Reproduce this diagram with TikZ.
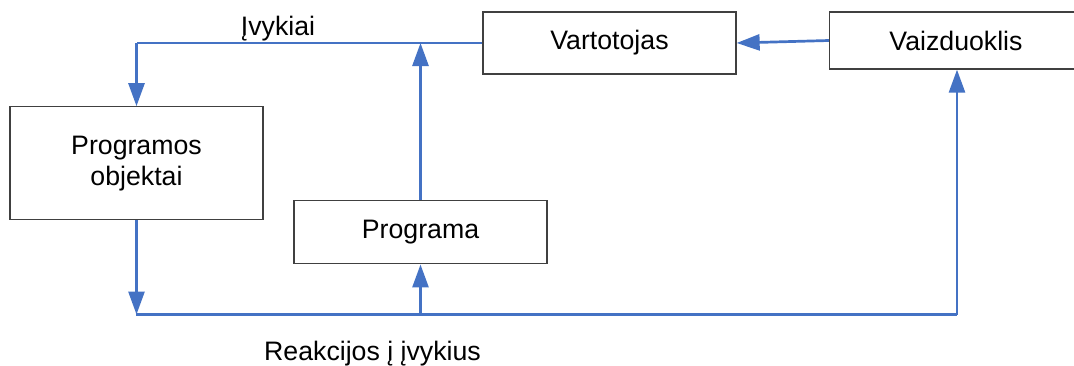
\documentclass[tikz,border=0pt]{standalone}
\usepackage{fontspec}
\setmainfont{Liberation Sans}
\usetikzlibrary{arrows.meta}
\definecolor{flowblue}{HTML}{4472C4}
\definecolor{boxline}{HTML}{404040}
\begin{document}
\begin{tikzpicture}[x=1pt,y=-1pt,
  font=\fontsize{26.7}{30.7}\selectfont,
  block/.style={draw=boxline, line width=1.3pt, fill=white, inner sep=0pt,
    align=center, minimum width=253pt},
  wire/.style={draw=flowblue, line width=2.7pt},
  flow/.style={wire, -{Triangle[width=16pt,length=23pt]}}]
  % canvas
  \clip (0,0) rectangle (1074,365);
  \fill[white] (0,0) rectangle (1074,365);

  % blocks
  \node[block, minimum height=113pt] (obj)  at (136.5,163.3) {Programos\\objektai};
  \node[block, minimum height=62pt]  (user) at (609.5,43)    {Vartotojas};
  \node[block, minimum height=57pt]  (disp) at (956,40.5)    {Vaizduoklis};
  \node[block, minimum height=63pt]  (prog) at (420.5,232.3) {Programa};

  % bus corners
  \coordinate (topL) at (obj.north |- user.west);
  \coordinate (busL) at (135.5,314.5);
  \coordinate (busR) at (957,314.5);

  % events: user -> program objects, program feeds in
  \draw[wire] (user.west) -- (topL);
  \draw[flow] (topL) -- (obj.north);
  \draw[flow] (prog.north) -- (prog.north |- user.west);
  \draw[flow] (disp.west) -- (user.east);

  % reactions bus along the bottom
  \draw[flow] (obj.south) -- (obj.south |- busL);
  \draw[wire] (busL) -- (busR);
  \draw[flow] (busR) -- (busR |- disp.south);
  \draw[flow] (prog.south |- busL) -- (prog.south);

  % labels
  \node[anchor=base] (evt) at (278,35)    {Įvykiai};
  \node[anchor=base] (rea) at (372.5,360) {Reakcijos į įvykius};
\end{tikzpicture}
\end{document}
